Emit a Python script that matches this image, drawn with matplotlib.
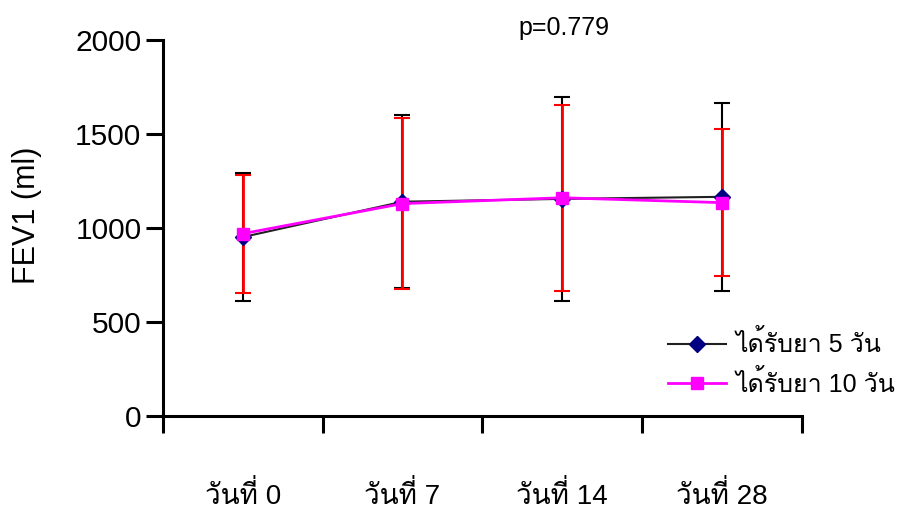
import matplotlib
matplotlib.use('Agg')
import matplotlib.pyplot as plt
import numpy as np
from matplotlib import font_manager, ft2font

# data
days = ['วันที่ 0', 'วันที่ 7', 'วันที่ 14', 'วันที่ 28']
mean5 = [952, 1140, 1155, 1166]
sd5 = [339, 459, 542, 500]
mean10 = [970, 1130, 1161, 1135]
sd10 = [313, 453, 495, 390]
labels = ['ได้รับยา 5 วัน', 'ได้รับยา 10 วัน']
ptext = 'p=0.779'


def thai_font():
    # look for any installed font that has Thai glyphs
    names = []
    for f in font_manager.fontManager.ttflist:
        try:
            if 0x0E27 in ft2font.FT2Font(f.fname).get_charmap():
                names.append(f.name)
        except Exception:
            pass
    return names


thai = thai_font()
fams = ['Liberation Sans'] + thai[:1] + ['DejaVu Sans']
plt.rcParams['font.family'] = fams

fig = plt.figure(figsize=(8.97, 5.13), dpi=100)
ax = fig.add_axes([0.1817, 0.189, 0.712, 0.733])

x = np.arange(len(days)) + 0.5
ax.errorbar(x, mean5, yerr=sd5, fmt='none', ecolor='black', elinewidth=1.5,
            capsize=5.5, capthick=1.5, zorder=2)
ax.errorbar(x, mean10, yerr=sd10, fmt='none', ecolor='#ff0000', elinewidth=2,
            capsize=5.5, capthick=1.5, zorder=3)
ax.plot(x, mean5, color='#202020', lw=1.5, marker='D', ms=8,
        mfc='#000080', mec='#000080', label=labels[0], zorder=4)
ax.plot(x, mean10, color='#ff00ff', lw=2, marker='s', ms=9,
        mfc='#ff00ff', mec='#ff00ff', label=labels[1], zorder=5)

ax.set_xlim(0, 4)
ax.set_ylim(0, 2000)
ax.set_yticks([0, 500, 1000, 1500, 2000])
ax.set_xticks(np.arange(5))
ax.set_xticklabels([])
ax.set_xticks(x, minor=True)
ax.set_xticklabels(days, minor=True, fontsize=20)
ax.tick_params(axis='x', which='minor', length=0, pad=47)
ax.tick_params(axis='both', which='major', length=12, width=2.2,
               direction='out', labelsize=21.5)
for s in ['top', 'right']:
    ax.spines[s].set_visible(False)
for s in ['left', 'bottom']:
    ax.spines[s].set_linewidth(2.2)

ax.set_ylabel('FEV1 (ml)', fontsize=22)
ax.yaxis.set_label_coords(-0.19, 0.535)
fig.text(0.578, 0.945, ptext, fontsize=18, ha='left', va='center')

fig.legend(loc='center left', bbox_to_anchor=(0.745, 0.291), frameon=False,
           fontsize=18, handlelength=2.3, handletextpad=0.4, borderpad=0,
           borderaxespad=0, labelspacing=0.5)

fig.savefig('out.png', dpi=100)
